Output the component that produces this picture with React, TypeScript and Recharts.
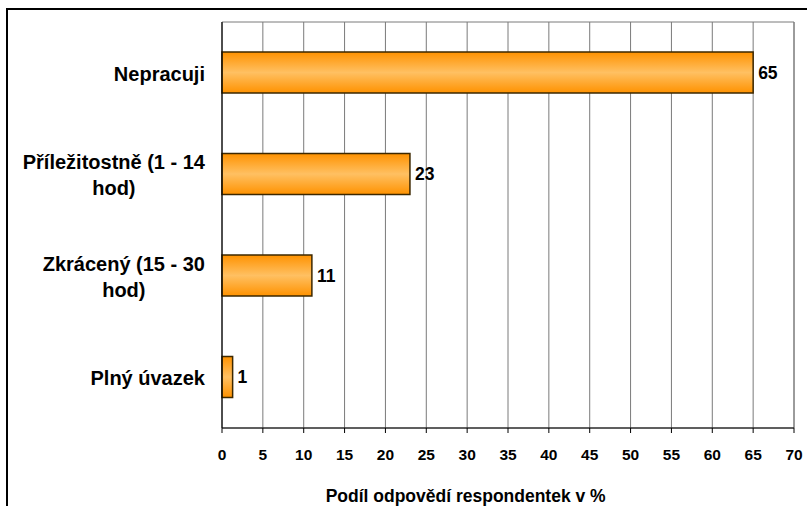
import React from "react"
import {
  Bar,
  BarChart,
  CartesianGrid,
  LabelList,
  ReferenceArea,
  XAxis,
  YAxis,
} from "recharts"

const categories = ["Nepracuji", "Příležitostně (1 - 14 hod)", "Zkrácený (15 - 30 hod)", "Plný úvazek"]
const shares = [65, 23, 11, 1.3]
const xTicks = [0, 5, 10, 15, 20, 25, 30, 35, 40, 45, 50, 55, 60, 65, 70]
const axisTitle = "Podíl odpovědí respondentek v %"

const FONT = '"Liberation Sans", Arial, sans-serif'
const CAT_SIZE = 20
const CAT_MAX = 195
const LINE_GAP = 26

let measureCtx: CanvasRenderingContext2D | null = null
function textWidth(s: string) {
  if (!measureCtx) {
    measureCtx = document.createElement("canvas").getContext("2d")
  }
  if (!measureCtx) return s.length * CAT_SIZE * 0.55
  measureCtx.font = `bold ${CAT_SIZE}px ${FONT}`
  return measureCtx.measureText(s).width
}

function wrapLabel(s: string) {
  const words = s.split(" ")
  const lines: string[] = []
  let cur = ""
  for (const w of words) {
    const next = cur ? cur + " " + w : w
    if (cur && textWidth(next) > CAT_MAX) {
      lines.push(cur)
      cur = w
    } else {
      cur = next
    }
  }
  if (cur) lines.push(cur)
  return lines
}

// wrapped category label, lines centred on each other, block right-aligned to the tick
function CategoryTick(props: any) {
  const { x, y, payload } = props
  const lines = wrapLabel(String(payload.value))
  const block = Math.max(...lines.map(textWidth))
  const cx = x - block / 2
  return (
    <text textAnchor="middle" fontFamily={FONT} fontSize={CAT_SIZE} fontWeight="bold" fill="#000">
      {lines.map((ln, i) => (
        <tspan key={i} x={cx} y={y + (i - (lines.length - 1) / 2) * LINE_GAP} dy="0.4em">
          {ln}
        </tspan>
      ))}
    </text>
  )
}

function AxisTitle(props: any) {
  const vb = props.viewBox || { x: 222, y: 428, width: 572, height: 78 }
  return (
    <text
      x={vb.x + vb.width * 0.426}
      y={vb.y + 74}
      textAnchor="middle"
      fontFamily={FONT}
      fontSize={17.5}
      fontWeight="bold"
      fill="#000"
    >
      {axisTitle}
    </text>
  )
}

export default function App() {
  const data = categories.map((name, i) => ({ name, value: shares[i] }))

  return (
    <div
      style={{
        position: "fixed",
        left: 0,
        top: 0,
        width: 807,
        height: 506,
        overflow: "hidden",
        background: "#fff",
      }}
    >
      <div
        style={{
          position: "absolute",
          left: 6,
          top: 8,
          width: 900,
          height: 600,
          border: "2px solid #000",
        }}
      />
      <div style={{ position: "absolute", left: 0, top: 0 }}>
        <BarChart
          width={807}
          height={506}
          data={data}
          layout="vertical"
          margin={{ top: 22, right: 13, bottom: 0, left: 0 }}
        >
          <defs>
            <linearGradient id="barFill" x1="0" y1="0" x2="0" y2="1">
              <stop offset="0%" stopColor="#ff9200" />
              <stop offset="50%" stopColor="#ffc062" />
              <stop offset="100%" stopColor="#ff9200" />
            </linearGradient>
          </defs>
          <CartesianGrid horizontal={false} stroke="#7a7a7a" strokeWidth={1} />
          <ReferenceArea x1={0} x2={70} fill="none" stroke="#7a7a7a" strokeWidth={1} />
          <XAxis
            type="number"
            domain={[0, 70]}
            ticks={xTicks}
            interval={0}
            height={78}
            tickSize={5}
            tickMargin={16}
            axisLine={{ stroke: "#000", strokeWidth: 1 }}
            tickLine={{ stroke: "#000" }}
            tick={{ fill: "#000", fontSize: 15.5, fontWeight: "bold", fontFamily: FONT }}
            label={<AxisTitle />}
          />
          <YAxis
            type="category"
            dataKey="name"
            width={222}
            tickSize={0}
            tickMargin={17}
            tickLine={false}
            axisLine={{ stroke: "#000", strokeWidth: 1 }}
            tick={<CategoryTick />}
            interval={0}
          />
          <Bar
            dataKey="value"
            barSize={41}
            fill="url(#barFill)"
            stroke="#3d2800"
            strokeWidth={1.5}
            isAnimationActive={false}
          >
            <LabelList
              dataKey="value"
              position="right"
              offset={5}
              formatter={(v: any) => Math.round(Number(v))}
              fill="#000"
              fontSize={17.5}
              fontWeight="bold"
              fontFamily={FONT}
            />
          </Bar>
        </BarChart>
      </div>
    </div>
  )
}
